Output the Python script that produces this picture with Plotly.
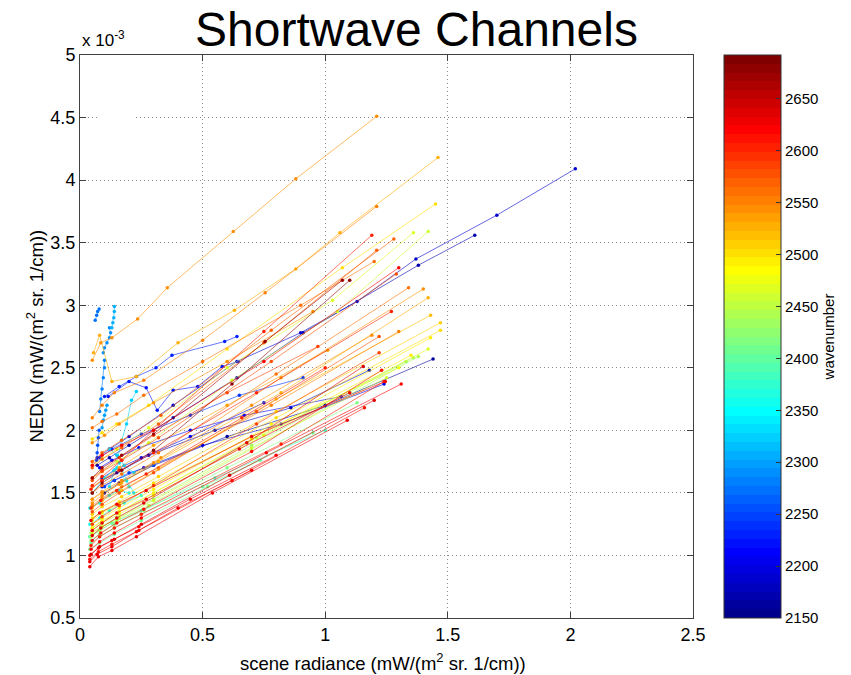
import math
import plotly.graph_objects as go

# ---------------- data (NEDN in units of 1e-3) ----------------
wavenumber = [
    2625, 2615, 2635, 2620, 2605, 2610, 2640, 2630, 2600, 2620, 2670, 2680, 2600, 2625, 2620, 2630, 2605,
    2545, 2525, 2555, 2560, 2545, 2575, 2565, 2570, 2550, 2580, 2540, 2590, 2535, 2585, 2560, 2540, 2530,
    2500, 2470, 2460,
    2470, 2490, 2500, 2510, 2520, 2480, 2455, 2495,
    2400, 2420, 2440, 2380, 2430, 2445, 2410,
    2160, 2180, 2200, 2210, 2240, 2190, 2170, 2230, 2220, 2205, 2245,
    2270, 2310, 2290, 2280, 2260, 2320, 2300,
    2340, 2350, 2330, 2365, 2320,
]

radiance = [
    [0.04, 0.075, 0.13, 0.23, 0.54, 1.09],
    [0.04, 0.075, 0.13, 0.24, 0.62, 1.16],
    [0.045, 0.08, 0.14, 0.25, 0.61, 1.20],
    [0.045, 0.08, 0.14, 0.25, 0.76, 1.31],
    [0.045, 0.08, 0.14, 0.25, 0.82, 1.24],
    [0.05, 0.085, 0.15, 0.26, 0.70, 1.23],
    [0.05, 0.085, 0.15, 0.26, 0.68, 1.155],
    [0.05, 0.09, 0.15, 0.27, 0.65, 1.10],
    [0.045, 0.09, 0.16, 0.30, 0.72, 1.27],
    [0.05, 0.09, 0.17, 0.30, 0.75, 1.30],
    [0.05, 0.09, 0.17, 0.30, 0.755, 1.07],
    [0.05, 0.09, 0.17, 0.30, 0.62, 1.10],
    [0.05, 0.09, 0.17, 0.30, 0.75, 1.19],
    [0.045, 0.08, 0.15, 0.27, 0.70, 1.245],
    [0.04, 0.075, 0.13, 0.24, 0.45, 0.80],
    [0.04, 0.07, 0.13, 0.23, 0.40, 0.70],
    [0.045, 0.085, 0.15, 0.27, 0.66, 1.00],
    [0.05, 0.085, 0.13, 0.235, 0.356, 0.625, 0.88, 1.21],
    [0.055, 0.08, 0.13, 0.23, 0.40, 0.63, 0.88, 1.06, 1.46],
    [0.05, 0.09, 0.14, 0.26, 0.50, 0.755, 1.21],
    [0.05, 0.09, 0.17, 0.32, 0.80, 1.34],
    [0.05, 0.09, 0.17, 0.33, 0.82, 1.40],
    [0.05, 0.09, 0.17, 0.32, 0.78, 1.29],
    [0.05, 0.09, 0.17, 0.32, 0.75, 1.21],
    [0.05, 0.09, 0.17, 0.33, 0.78, 1.28],
    [0.05, 0.09, 0.17, 0.32, 0.78, 1.30],
    [0.05, 0.09, 0.16, 0.30, 0.72, 1.22],
    [0.05, 0.09, 0.16, 0.30, 0.70, 1.19],
    [0.05, 0.09, 0.16, 0.30, 0.72, 1.22],
    [0.05, 0.09, 0.16, 0.30, 0.60, 1.01],
    [0.05, 0.09, 0.16, 0.30, 0.60, 0.97],
    [0.05, 0.09, 0.15, 0.26, 0.50, 0.90, 1.20],
    [0.05, 0.10, 0.16, 0.30, 0.60, 0.95],
    [0.05, 0.09, 0.17, 0.32, 0.82, 1.42],
    [0.05, 0.09, 0.15, 0.28, 0.60, 1.07, 1.45],
    [0.05, 0.09, 0.15, 0.28, 0.60, 1.03, 1.36],
    [0.05, 0.09, 0.15, 0.28, 0.62, 1.05, 1.42],
    [0.05, 0.09, 0.16, 0.30, 0.75, 1.42],
    [0.05, 0.09, 0.16, 0.30, 0.78, 1.43],
    [0.05, 0.09, 0.16, 0.30, 0.80, 1.47],
    [0.05, 0.09, 0.17, 0.32, 0.80, 1.47],
    [0.05, 0.09, 0.17, 0.32, 0.80, 1.43],
    [0.05, 0.09, 0.16, 0.30, 0.70, 1.30],
    [0.05, 0.09, 0.16, 0.30, 0.70, 1.25],
    [0.05, 0.09, 0.16, 0.30, 0.70, 1.35],
    [0.045, 0.08, 0.14, 0.25, 0.50, 0.735],
    [0.045, 0.08, 0.14, 0.26, 0.60, 1.13],
    [0.045, 0.08, 0.15, 0.28, 0.70, 1.38],
    [0.04, 0.08, 0.13, 0.25, 0.55, 1.00],
    [0.045, 0.085, 0.15, 0.30, 0.70, 1.33],
    [0.05, 0.09, 0.16, 0.30, 0.72, 1.36],
    [0.04, 0.08, 0.14, 0.25, 0.52, 0.95],
    [0.10, 0.16, 0.30, 0.60, 1.00, 1.44],
    [0.09, 0.15, 0.28, 0.55, 0.86, 1.18],
    [0.09, 0.14, 0.26, 0.50, 0.82, 1.24],
    [0.08, 0.13, 0.24, 0.45, 0.67, 1.065],
    [0.08, 0.13, 0.25, 0.45, 0.65, 0.91],
    [0.07, 0.12, 0.20, 0.38, 0.64, 0.90, 1.13, 1.37, 1.70, 2.02],
    [0.07, 0.12, 0.20, 0.38, 0.64, 0.91, 1.38, 1.61],
    [0.10, 0.16, 0.23, 0.31, 0.375, 0.59, 0.64],
    [0.115, 0.20, 0.27, 0.315, 0.38, 0.48, 0.58, 0.645],
    [0.09, 0.14, 0.25, 0.45, 0.75],
    [0.10, 0.14, 0.20, 0.30],
    [0.062, 0.068, 0.072, 0.078],
    [0.13, 0.134, 0.138, 0.14, 0.14],
    [0.095, 0.10, 0.11, 0.12, 0.125, 0.12],
    [0.08, 0.085, 0.09, 0.095, 0.10, 0.10],
    [0.068, 0.07, 0.072, 0.075, 0.078],
    [0.155, 0.17, 0.19, 0.21, 0.23],
    [0.09, 0.095, 0.10, 0.105, 0.11],
    [0.05, 0.10, 0.15, 0.20],
    [0.04, 0.08, 0.12, 0.16, 0.20],
    [0.12, 0.14, 0.16, 0.19, 0.22],
    [0.04, 0.08, 0.12, 0.18, 0.25],
    [0.12, 0.15, 0.18, 0.22],
]

nedn_e3 = [
    [0.91, 0.99, 1.04, 1.15, 1.50, 2.08],
    [0.97, 1.03, 1.09, 1.20, 1.60, 2.18],
    [1.01, 1.07, 1.13, 1.25, 1.64, 2.24],
    [1.05, 1.11, 1.18, 1.30, 1.82, 2.37],
    [1.08, 1.15, 1.22, 1.33, 1.89, 2.39],
    [1.12, 1.18, 1.26, 1.37, 1.83, 2.48],
    [1.16, 1.22, 1.30, 1.42, 1.90, 2.51],
    [1.20, 1.26, 1.34, 1.45, 1.85, 2.30],
    [1.53, 1.60, 1.68, 1.82, 2.30, 2.95],
    [1.72, 1.80, 1.88, 2.00, 2.55, 3.30],
    [1.62, 1.70, 1.80, 1.97, 2.71, 3.20],
    [1.50, 1.58, 1.68, 1.84, 2.37, 3.20],
    [1.56, 1.63, 1.76, 2.00, 2.79, 3.56],
    [1.28, 1.34, 1.41, 1.52, 1.95, 2.39],
    [1.00, 1.06, 1.12, 1.23, 1.45, 1.80],
    [0.95, 1.01, 1.07, 1.19, 1.38, 1.68],
    [1.38, 1.44, 1.52, 1.65, 2.10, 2.50],
    [2.56, 2.70, 2.74, 2.89, 3.14, 3.59, 4.01, 4.51],
    [2.62, 2.76, 2.39, 2.43, 2.70, 2.96, 3.29, 3.58, 4.18],
    [2.10, 2.20, 2.30, 2.40, 2.72, 3.10, 3.79],
    [1.50, 1.56, 1.65, 1.82, 2.45, 3.14],
    [1.45, 1.51, 1.60, 1.78, 2.42, 3.13],
    [1.60, 1.67, 1.76, 1.94, 2.55, 3.25],
    [1.70, 1.77, 1.86, 2.05, 2.70, 3.44],
    [1.75, 1.82, 1.92, 2.12, 2.80, 3.53],
    [1.40, 1.46, 1.55, 1.70, 2.20, 2.79],
    [1.35, 1.41, 1.50, 1.66, 2.15, 2.75],
    [1.42, 1.48, 1.57, 1.74, 2.20, 2.76],
    [1.25, 1.31, 1.40, 1.56, 2.05, 2.62],
    [1.55, 1.60, 1.70, 1.88, 2.20, 2.64],
    [1.62, 1.68, 1.78, 1.96, 2.30, 2.67],
    [2.02, 2.07, 2.13, 2.28, 2.55, 3.00, 3.35],
    [1.90, 1.96, 2.05, 2.22, 2.55, 2.95],
    [1.45, 1.50, 1.58, 1.75, 2.30, 3.06],
    [1.93, 1.98, 2.05, 2.20, 2.65, 3.30, 3.81],
    [1.72, 1.77, 1.85, 2.02, 2.50, 3.04, 3.58],
    [1.62, 1.67, 1.75, 1.90, 2.40, 2.95, 3.59],
    [1.20, 1.26, 1.33, 1.48, 1.96, 2.65],
    [1.25, 1.30, 1.38, 1.53, 2.05, 2.74],
    [1.30, 1.35, 1.43, 1.58, 2.10, 2.80],
    [1.33, 1.39, 1.47, 1.63, 2.15, 2.86],
    [1.38, 1.44, 1.52, 1.69, 2.25, 2.92],
    [1.28, 1.34, 1.41, 1.56, 1.95, 2.50],
    [1.18, 1.23, 1.30, 1.44, 1.86, 2.42],
    [1.22, 1.28, 1.35, 1.50, 1.93, 2.60],
    [1.10, 1.15, 1.22, 1.33, 1.55, 1.76],
    [1.12, 1.17, 1.25, 1.36, 1.70, 2.22],
    [1.15, 1.20, 1.28, 1.40, 1.85, 2.59],
    [1.15, 1.20, 1.26, 1.36, 1.62, 2.00],
    [1.18, 1.23, 1.30, 1.45, 1.88, 2.55],
    [1.22, 1.27, 1.35, 1.50, 1.94, 2.58],
    [1.05, 1.10, 1.17, 1.28, 1.55, 1.98],
    [1.50, 1.58, 1.72, 1.95, 2.20, 2.57],
    [1.60, 1.66, 1.80, 2.00, 2.18, 2.48],
    [1.55, 1.60, 1.70, 1.88, 2.05, 2.37],
    [1.70, 1.76, 1.86, 2.00, 2.12, 2.27],
    [1.78, 1.85, 1.97, 2.12, 2.28, 2.42],
    [1.78, 1.85, 1.95, 2.20, 2.55, 2.78, 3.03, 3.37, 3.72, 4.09],
    [1.72, 1.78, 1.88, 2.10, 2.42, 2.78, 3.32, 3.56],
    [2.27, 2.35, 2.43, 2.50, 2.60, 2.71, 2.75],
    [2.27, 2.39, 2.34, 2.16, 2.32, 2.35, 2.51, 2.55],
    [1.62, 1.68, 1.78, 1.95, 2.22],
    [1.55, 1.60, 1.66, 1.72],
    [2.88, 2.92, 2.95, 2.97],
    [2.82, 2.86, 2.90, 2.95, 2.99],
    [2.62, 2.66, 2.70, 2.74, 2.78, 2.82],
    [2.15, 2.25, 2.33, 2.42, 2.50, 2.56],
    [1.76, 1.82, 1.88, 1.94, 2.00],
    [1.79, 1.92, 2.05, 2.24, 2.31],
    [2.02, 2.08, 2.12, 2.16, 2.20],
    [1.50, 1.62, 1.70, 1.55],
    [1.38, 1.42, 1.48, 1.52, 1.50],
    [1.55, 1.68, 1.74, 1.60, 1.50],
    [1.25, 1.30, 1.36, 1.42, 1.48],
    [1.85, 1.80, 1.72, 1.66],
]

x_ticks = [0, 0.5, 1, 1.5, 2, 2.5]
y_ticks = [0.5, 1, 1.5, 2, 2.5, 3, 3.5, 4, 4.5, 5]
cbar_ticks = [2150, 2200, 2250, 2300, 2350, 2400, 2450, 2500, 2550, 2600, 2650]

CMIN, CMAX = 2150, 2692


# ---------------- MATLAB jet(64) ----------------
def jet(m=64):
    n = math.ceil(m / 4)
    u = [i / n for i in range(1, n + 1)] + [1.0] * (n - 1) + [i / n for i in range(n, 0, -1)]
    g0 = math.ceil(n / 2) - (1 if m % 4 == 1 else 0)
    J = [[0.0, 0.0, 0.0] for _ in range(m)]
    for k, val in enumerate(u):
        g = g0 + k
        r = g + n
        b = g - n
        if 0 <= r < m:
            J[r][0] = val
        if 0 <= g < m:
            J[g][1] = val
        if 0 <= b < m:
            J[b][2] = val
    return J


JET = jet(64)


def rgb(c, a=None):
    r, g, b = (int(round(v * 255)) for v in c)
    if a is None:
        return f"rgb({r},{g},{b})"
    return f"rgba({r},{g},{b},{a})"


def wn_index(wn):
    i = int((wn - CMIN) / (CMAX - CMIN) * 64)
    return max(0, min(63, i))


FONT = "Liberation Sans, Arial, Helvetica"

fig = go.Figure()

order = sorted(range(len(wavenumber)), key=lambda i: wavenumber[i])
for i in order:
    c = JET[wn_index(wavenumber[i])]
    fig.add_trace(go.Scatter(
        x=radiance[i], y=nedn_e3[i], mode="lines+markers",
        line=dict(color=rgb(c, 0.6), width=1),
        marker=dict(color=rgb(c), size=3.5),
        showlegend=False, hoverinfo="skip",
    ))

# discrete jet colorscale for the colorbar
cscale = []
for k, c in enumerate(JET):
    cscale.append([k / 64, rgb(c)])
    cscale.append([(k + 1) / 64, rgb(c)])

fig.add_trace(go.Scatter(
    x=[1.0, 1.0], y=[1.0, 1.0], mode="markers",
    marker=dict(size=1, opacity=0, color=[CMIN, CMAX], cmin=CMIN, cmax=CMAX, colorscale=cscale,
                showscale=True,
                colorbar=dict(
                    x=(724 - 80) / 613, xanchor="left", xpad=0, ypad=0,
                    y=0.5, yanchor="middle", len=1.0, lenmode="fraction",
                    thickness=57, outlinewidth=1, outlinecolor="#333",
                    tickvals=cbar_ticks, ticks="inside", ticklen=5, tickcolor="#333",
                    tickfont=dict(family=FONT, size=15, color="black"),
                    title=dict(text="wavenumber", side="right",
                               font=dict(family=FONT, size=15, color="black")),
                )),
    showlegend=False, hoverinfo="skip",
))

axis_common = dict(
    showline=True, linecolor="#404040", linewidth=1, mirror="ticks",
    ticks="inside", ticklen=6, tickcolor="#404040",
    showgrid=True, gridcolor="#8c8c8c", gridwidth=1, griddash="1px,3px",
    zeroline=False,
    tickfont=dict(family=FONT, size=18, color="black"),
)

fig.update_layout(
    width=851, height=675,
    margin=dict(l=80, r=158, t=55, b=57),
    paper_bgcolor="white", plot_bgcolor="white",
    xaxis=dict(range=[0, 2.5], tickvals=x_ticks, ticktext=[f"{v:g}" for v in x_ticks], **axis_common),
    yaxis=dict(range=[0.5, 5], tickvals=y_ticks, ticktext=[f"{v:g}" for v in y_ticks], **axis_common),
    shapes=[dict(type="rect", xref="x", yref="y", x0=0.07, x1=0.22, y0=4.47, y1=4.53,
                 fillcolor="white", line=dict(width=0), layer="between")],
    annotations=[
        dict(text="Shortwave Channels", xref="paper", yref="paper",
             x=(416 - 80) / 613, y=(618 - 29) / 563, xanchor="center", yanchor="middle",
             showarrow=False, font=dict(family=FONT, size=48, color="black")),
        dict(text="x 10<sup>-3</sup>", xref="paper", yref="paper", x=0, y=1,
             xanchor="left", yanchor="bottom", yshift=3, showarrow=False,
             font=dict(family=FONT, size=17, color="black")),
        dict(text="NEDN (mW/(m<sup>2</sup> sr. 1/cm))", xref="paper", yref="paper",
             x=(35 - 80) / 613, y=0.5, xanchor="center", yanchor="middle", textangle=-90,
             showarrow=False, font=dict(family=FONT, size=18.5, color="black")),
        dict(text="scene radiance (mW/(m<sup>2</sup> sr. 1/cm))", xref="paper", yref="paper",
             x=(383 - 80) / 613, y=(618 - 662) / 563, xanchor="center", yanchor="middle",
             showarrow=False, font=dict(family=FONT, size=18.5, color="black")),
    ],
)

fig.write_html("out.html")
